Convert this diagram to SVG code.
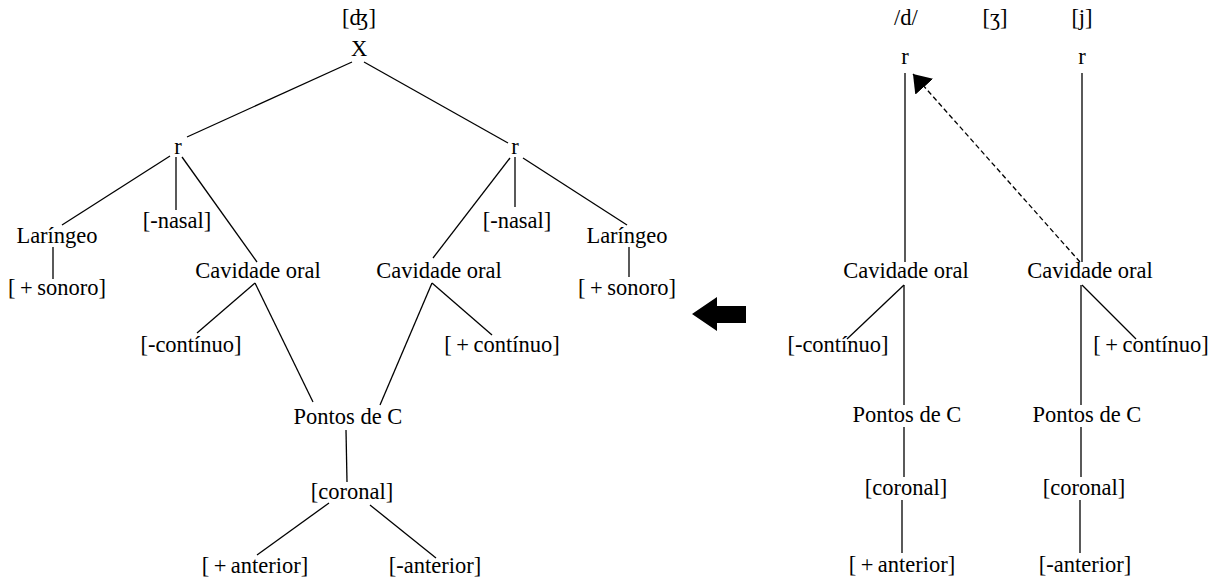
<svg xmlns="http://www.w3.org/2000/svg" width="1227" height="580" viewBox="0 0 1227 580">
<style>
text{font-family:"Liberation Serif","DejaVu Serif",serif;font-size:22.5px;fill:#000;text-anchor:middle}
.c line{stroke:#000;stroke-width:1.3}
.d{stroke:#000;stroke-width:1.3;stroke-dasharray:5,3;fill:none}
</style>
<defs>
<marker id="ah" markerUnits="userSpaceOnUse" markerWidth="19" markerHeight="24" refX="17" refY="12" orient="auto">
<path d="M0,0 L17,12 L0,24 z" fill="#000"/>
</marker>
</defs>
<rect width="1227" height="580" fill="#fff"/>
<g class="c" id="connectors">
<line x1="352" y1="62" x2="187" y2="137"/>
<line x1="364" y1="62" x2="508" y2="143"/>
<line x1="170" y1="156" x2="62" y2="225"/>
<line x1="176" y1="157" x2="176" y2="210"/>
<line x1="182" y1="157" x2="257" y2="262"/>
<line x1="53" y1="247" x2="53" y2="279"/>
<line x1="255" y1="283" x2="197" y2="333"/>
<line x1="255" y1="283" x2="313" y2="402"/>
<line x1="510" y1="158" x2="433" y2="258"/>
<line x1="515" y1="157" x2="515" y2="207"/>
<line x1="523" y1="158" x2="627" y2="225"/>
<line x1="629" y1="247" x2="629" y2="277"/>
<line x1="432" y1="283" x2="380" y2="405"/>
<line x1="432" y1="283" x2="492" y2="335"/>
<line x1="346" y1="430" x2="347" y2="482"/>
<line x1="329" y1="503" x2="257" y2="555"/>
<line x1="370" y1="505" x2="436" y2="558"/>
<line x1="905" y1="73" x2="905" y2="262"/>
<line x1="904" y1="285" x2="904" y2="405"/>
<line x1="904" y1="285" x2="847" y2="339"/>
<line x1="904" y1="427" x2="904" y2="477"/>
<line x1="902" y1="500" x2="902" y2="553"/>
<line x1="1082" y1="73" x2="1082" y2="262"/>
<line x1="1081" y1="285" x2="1081" y2="405"/>
<line x1="1082" y1="285" x2="1136" y2="339"/>
<line x1="1081" y1="427" x2="1081" y2="477"/>
<line x1="1080" y1="500" x2="1080" y2="553"/>
<path class="d" d="M1080,262 L913,74" marker-end="url(#ah)"/>
</g>
<polygon id="bigarrow" points="692,314 717,297 717,306 746,306 746,323 717,323 717,331" fill="#000"/>
<g id="ipa_dz"><text x="359" y="25">[ʤ]</text></g>
<g id="X"><text x="359" y="56">X</text></g>
<g id="r1"><text x="178" y="154">r</text></g>
<g id="r2"><text x="515" y="154">r</text></g>
<g id="lar1"><text x="57" y="243">Laríngeo</text></g>
<g id="nasal1"><text x="177" y="228">[-nasal]</text></g>
<g id="cav1"><text x="258" y="278">Cavidade oral</text></g>
<g id="son1"><text x="57" y="295">[&#8201;+&#8201;sonoro]</text></g>
<g id="cont1"><text x="191" y="352">[-contínuo]</text></g>
<g id="nasal2"><text x="517" y="228">[-nasal]</text></g>
<g id="lar2"><text x="627" y="243">Laríngeo</text></g>
<g id="son2"><text x="627" y="295">[&#8201;+&#8201;sonoro]</text></g>
<g id="cav2"><text x="439" y="278">Cavidade oral</text></g>
<g id="cont2"><text x="502" y="352">[&#8201;+&#8201;contínuo]</text></g>
<g id="pontos1"><text x="348" y="424">Pontos de C</text></g>
<g id="coronal1"><text x="352" y="499">[coronal]</text></g>
<g id="ant1"><text x="255" y="573">[&#8201;+&#8201;anterior]</text></g>
<g id="ant2"><text x="435" y="573">[-anterior]</text></g>
<g id="d_label"><text x="906" y="25">/d/</text></g>
<g id="zh_label"><text x="995" y="25">[ʒ]</text></g>
<g id="j_label"><text x="1082" y="25">[j]</text></g>
<g id="rA"><text x="905" y="64">r</text></g>
<g id="rB"><text x="1082" y="64">r</text></g>
<g id="cavA"><text x="906" y="278">Cavidade oral</text></g>
<g id="cavB"><text x="1090" y="278">Cavidade oral</text></g>
<g id="contA"><text x="838" y="352">[-contínuo]</text></g>
<g id="contB"><text x="1151" y="352">[&#8201;+&#8201;contínuo]</text></g>
<g id="pontosA"><text x="907" y="422">Pontos de C</text></g>
<g id="pontosB"><text x="1087" y="422">Pontos de C</text></g>
<g id="coronalA"><text x="906" y="495">[coronal]</text></g>
<g id="coronalB"><text x="1084" y="495">[coronal]</text></g>
<g id="antA"><text x="902" y="572">[&#8201;+&#8201;anterior]</text></g>
<g id="antB"><text x="1085" y="572">[-anterior]</text></g>
</svg>
